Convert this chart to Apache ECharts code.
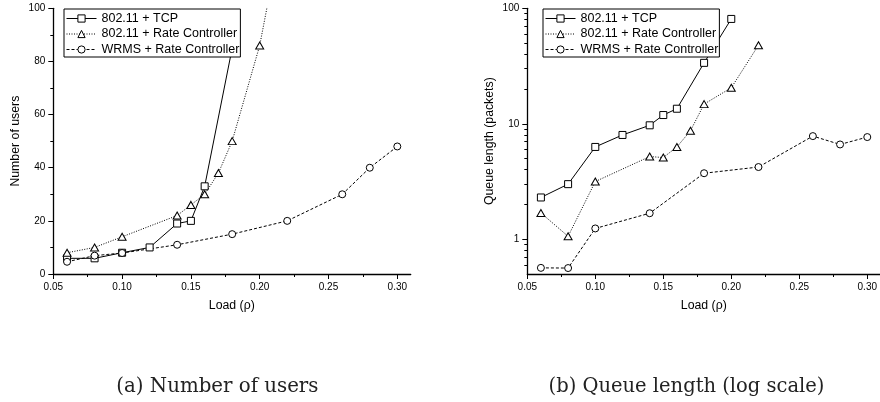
<!DOCTYPE html>
<html>
<head>
<meta charset="utf-8">
<script src="https://cdn.jsdelivr.net/npm/echarts@6/dist/echarts.min.js"></script>
<style>
  html, body { margin: 0; padding: 0; background: #fff; }
  #chart { width: 880px; height: 402px; }
</style>
</head>
<body>
<div id="chart"></div>
<script>
// series names
var names = ['802.11 + TCP', '802.11 + Rate Controller', 'WRMS + Rate Controller']

// (a) number of users
var tcpLoadA = [0.06, 0.08, 0.10, 0.12, 0.14, 0.15, 0.16, 0.18]
var tcpUsers = [5.9, 5.9, 8, 10, 19, 20, 33, 85]
var rcLoadA = [0.06, 0.08, 0.10, 0.14, 0.15, 0.16, 0.17, 0.18, 0.20, 0.22]
var rcUsers = [8, 10, 14, 22, 26, 30, 38, 50, 86, 140]
var wrmsLoadA = [0.06, 0.08, 0.10, 0.14, 0.18, 0.22, 0.26, 0.28, 0.30]
var wrmsUsers = [4.6, 6.9, 7.9, 11, 15, 20, 30, 40, 48]

// (b) queue length
var tcpLoadB = [0.06, 0.08, 0.10, 0.12, 0.14, 0.15, 0.16, 0.18, 0.20]
var tcpQueue = [2.3, 3.0, 6.3, 8.0, 9.7, 11.9, 13.5, 33.7, 80.9]
var rcLoadB = [0.06, 0.08, 0.10, 0.14, 0.15, 0.16, 0.17, 0.18, 0.20, 0.22]
var rcQueue = [1.69, 1.06, 3.16, 5.2, 5.1, 6.3, 8.7, 14.8, 20.5, 47.9]
var wrmsLoadB = [0.06, 0.08, 0.10, 0.14, 0.18, 0.22, 0.26, 0.28, 0.30]
var wrmsQueue = [0.565, 0.563, 1.24, 1.68, 3.73, 4.22, 7.82, 6.62, 7.67]

// ticks
var logTicks = [1, 10, 100]
var logMinor = [0.6, 0.7, 0.8, 0.9, 2, 3, 4, 5, 6, 7, 8, 9, 20, 30, 40, 50, 60, 70, 80, 90]

function pairs(xs, ys) {
  return xs.map(function (x, i) { return [x, ys[i]] })
}

var sans = 'Liberation Sans'
var black = '#000'

// plot axis 0.05..0.30, ticks + labels
function xMain(grid) {
  return {
    type: 'value', gridIndex: grid, min: 0.05, max: 0.30, interval: 0.05,
    name: 'Load (\u03c1)', nameLocation: 'middle', nameGap: 26,
    nameTextStyle: { fontFamily: sans, fontSize: 12.3, color: black, padding: [0, 0, 0, 13] },
    axisLine: { show: false, onZero: false },
    axisTick: { show: true, length: 5, lineStyle: { color: black, width: 1 } },
    minorTick: { show: true, splitNumber: 2, length: 3, lineStyle: { color: black, width: 1 } },
    axisLabel: { margin: 8, fontFamily: sans, fontSize: 10, color: black,
      formatter: function (v) { return v.toFixed(2) } },
    splitLine: { show: false }
  }
}
// axis line only, runs on to 0.31
function xLine(grid) {
  return {
    type: 'value', gridIndex: grid, min: 0.05, max: 0.31,
    axisLine: { show: true, onZero: false, lineStyle: { color: black, width: 1.3 } },
    axisTick: { show: false }, axisLabel: { show: false }, splitLine: { show: false }
  }
}

var lineStyles = [
  { color: black, width: 1, type: 'solid' },
  { color: black, width: 1, type: [1, 1.5] },
  { color: black, width: 1, type: [3, 2] }
]
var symbols = ['rect', 'triangle', 'circle']
var symbolSizes = [7, [8, 7], 7]

function mk(i, xi, yi, data) {
  return {
    name: names[i], type: 'line', xAxisIndex: xi, yAxisIndex: yi,
    data: data, symbol: symbols[i], symbolSize: symbolSizes[i],
    showAllSymbol: true,
    lineStyle: lineStyles[i],
    itemStyle: { color: '#fff', borderColor: black, borderWidth: 1 },
    emphasis: { disabled: true }
  }
}

function legendAt(left) {
  return {
    left: left, top: 9, orient: 'vertical', data: names,
    itemWidth: 30, itemHeight: 9, itemGap: 2.5,
    padding: [3, 1, 1, 2],
    backgroundColor: '#fff', borderColor: black, borderWidth: 1,
    selectedMode: false,
    lineStyle: { width: 1 },
    itemStyle: { borderWidth: 1 },
    textStyle: { fontFamily: sans, fontSize: 12.5, color: black }
  }
}

var chart = echarts.init(document.getElementById('chart'), null, { renderer: 'canvas' })
chart.setOption({
  animation: false,
  backgroundColor: '#fff',
  grid: [
    { left: 53.3, top: 8.3, width: 344, height: 265.7 },
    { left: 527.3, top: 8.3, width: 344, height: 265.7 },
    { left: 53.3, top: 8.3, width: 357.4, height: 265.7 },
    { left: 527.3, top: 8.3, width: 357.3, height: 265.7 }
  ],
  legend: [legendAt(64), legendAt(543)],
  xAxis: [xMain(0), xMain(1), xLine(2), xLine(3)],
  yAxis: [
    {
      type: 'value', gridIndex: 0, min: 0, max: 100, interval: 20,
      name: 'Number of users', nameLocation: 'middle', nameGap: 32,
      nameTextStyle: { fontFamily: sans, fontSize: 12.3, color: black },
      axisLine: { show: true, onZero: false, lineStyle: { color: black, width: 1.3 } },
      axisTick: { show: true, length: 5, lineStyle: { color: black, width: 1 } },
      minorTick: { show: true, splitNumber: 2, length: 3, lineStyle: { color: black, width: 1 } },
      axisLabel: { margin: 8, fontFamily: sans, fontSize: 10, color: black },
      splitLine: { show: false }
    },
    {
      type: 'log', logBase: 10, gridIndex: 1, min: 0.5, max: 100,
      name: 'Queue length (packets)', nameLocation: 'middle', nameGap: 32,
      nameTextStyle: { fontFamily: sans, fontSize: 12.3, color: black },
      axisLine: { show: true, onZero: false, lineStyle: { color: black, width: 1.3 } },
      axisTick: { show: true, customValues: logTicks, length: 5, lineStyle: { color: black, width: 1 } },
      axisLabel: { customValues: logTicks, margin: 8, fontFamily: sans, fontSize: 10, color: black },
      splitLine: { show: false }
    },
    {
      type: 'log', logBase: 10, gridIndex: 1, min: 0.5, max: 100, position: 'left',
      axisLine: { show: false, onZero: false },
      axisTick: { show: true, customValues: logMinor, length: 3, lineStyle: { color: black, width: 1 } },
      axisLabel: { show: false },
      splitLine: { show: false }
    },
    { type: 'value', gridIndex: 2, show: false },
    { type: 'value', gridIndex: 3, show: false }
  ],
  series: [
    mk(0, 0, 0, pairs(tcpLoadA, tcpUsers)),
    mk(1, 0, 0, pairs(rcLoadA, rcUsers)),
    mk(2, 0, 0, pairs(wrmsLoadA, wrmsUsers)),
    mk(0, 1, 1, pairs(tcpLoadB, tcpQueue)),
    mk(1, 1, 1, pairs(rcLoadB, rcQueue)),
    mk(2, 1, 1, pairs(wrmsLoadB, wrmsQueue))
  ],
  graphic: [
    { type: 'text', x: 217.4, y: 386.7, style: { text: '(a) Number of users', font: '19.8px "DejaVu Serif"', fill: '#222', textAlign: 'center', textVerticalAlign: 'middle' } },
    { type: 'text', x: 686.5, y: 386.7, style: { text: '(b) Queue length (log scale)', font: '19.5px "DejaVu Serif"', fill: '#222', textAlign: 'center', textVerticalAlign: 'middle' } }
  ]
})
</script>
</body>
</html>
